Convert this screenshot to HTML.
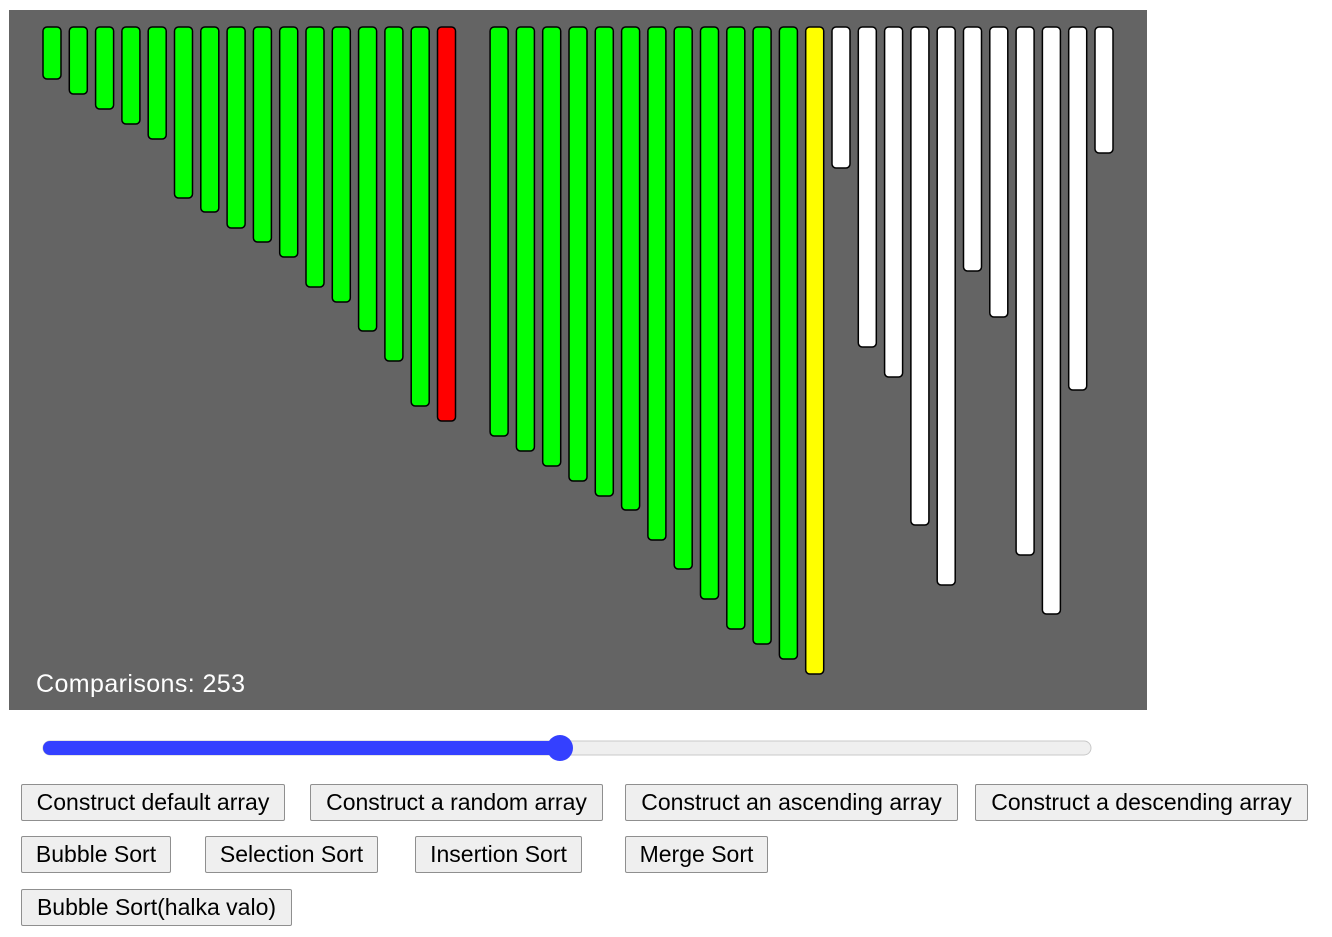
<!DOCTYPE html>
<html><head><meta charset="utf-8"><style>
body{margin:0;width:1332px;height:937px;background:#fff;position:relative;font-family:"Liberation Sans",sans-serif;overflow:hidden}
svg{position:absolute;left:0;top:0}
.btn{position:absolute;height:37px;box-sizing:border-box;border:1px solid #8f8f8f;border-radius:2px;background:#efefef;font-size:23px;line-height:35px;text-align:center;color:#000;font-family:"Liberation Sans",sans-serif;padding:0}
</style></head><body>
<svg id="chart" width="1332" height="937">
<rect x="9" y="10" width="1138" height="700" fill="#646464"/>
<g id="bars"></g>
<text x="36" y="692" fill="#fff" font-size="25" textLength="209" font-family="Liberation Sans, sans-serif">Comparisons: 253</text>
<rect x="43" y="741" width="1048" height="14" rx="7" fill="#efefef" stroke="#c8c8c8"/>
<rect x="43" y="741" width="517" height="14" rx="7" fill="#3440ff"/>
<circle cx="560" cy="748" r="13" fill="#3440ff"/>
</svg>
<button class="btn" style="left:21px;top:784px;width:264px">Construct default array</button>
<button class="btn" style="left:310px;top:784px;width:293px">Construct a random array</button>
<button class="btn" style="left:625px;top:784px;width:333px">Construct an ascending array</button>
<button class="btn" style="left:975px;top:784px;width:333px">Construct a descending array</button>
<button class="btn" style="left:21px;top:836px;width:150px">Bubble Sort</button>
<button class="btn" style="left:205px;top:836px;width:173px">Selection Sort</button>
<button class="btn" style="left:415px;top:836px;width:167px">Insertion Sort</button>
<button class="btn" style="left:625px;top:836px;width:143px">Merge Sort</button>
<button class="btn" style="left:21px;top:889px;width:271px">Bubble Sort(halka valo)</button>
<script>
const values=[52,67,82,97,112,171,185,201,215,230,260,275,304,334,379,394,0,409,424,439,454,469,483,513,542,572,602,617,632,647,141,320,350,498,558,244,290,528,587,363,126];
const states=["s","s","s","s","s","s","s","s","s","s","s","s","s","s","s","r","n","s","s","s","s","s","s","s","s","s","s","s","s","y","n","n","n","n","n","n","n","n","n","n","n"];
const colors={s:"#00ff00",r:"#ff0000",y:"#ffff00",n:"#ffffff"};
const x0=43,step=26.3,top0=27,bw=18,scale=1;
const g=document.getElementById('bars');
values.forEach((v,i)=>{
  if(v<=0)return;
  const r=document.createElementNS('http://www.w3.org/2000/svg','rect');
  r.setAttribute('x',x0+i*step);r.setAttribute('y',top0);
  r.setAttribute('width',bw);r.setAttribute('height',v*scale);
  r.setAttribute('rx',4);r.setAttribute('fill',colors[states[i]]);
  r.setAttribute('stroke','#000');r.setAttribute('stroke-width','1.5');
  
  
  g.appendChild(r);
});
</script>
</body></html>
